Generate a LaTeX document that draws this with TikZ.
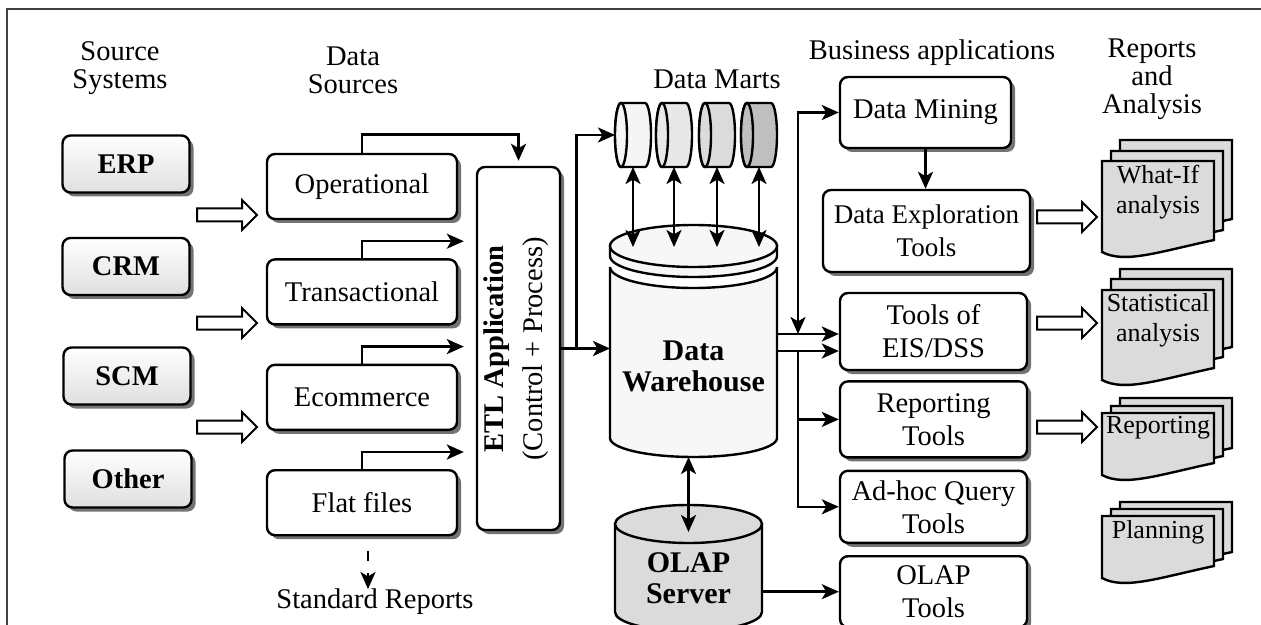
\documentclass[tikz,border=0pt]{standalone}
\usepackage{fontspec}
\setmainfont{Liberation Serif}
\usepackage{tikz}
\usetikzlibrary{arrows.meta,positioning,shadows,calc}

% one sheet of a report stack: left x, top y, height at the right edge
\newcommand{\docpage}[3]{%
  \draw[docfill] ({#1},{-(#2)}) -- ({#1+112},{-(#2)}) -- ({#1+112},{-(#2)-(#3)})
    .. controls ({#1+56},{-(#2)-(#3)-12}) and ({#1+22.4},{-(#2)-(#3)-24}) ..
    ({#1},{-(#2)-(#3)-12}) -- cycle;}

\begin{document}
\begin{tikzpicture}[
  x=0.5pt, y=0.5pt,
  >={Stealth[length=8.5pt,width=7.5pt,inset=2.2pt]},
  every node/.style={font=\fontsize{14.25pt}{16.5pt}\selectfont},
  shd/.style={drop shadow={shadow xshift=2pt, shadow yshift=-2pt,
              fill=black!55, opacity=1}},
  src/.style={draw, shd, rounded corners=4pt, line width=1.2pt,
              top color=white, bottom color=gray!25,
              minimum width=63.5pt, minimum height=28.5pt,
              font=\fontsize{14.25pt}{16.5pt}\selectfont\bfseries},
  box/.style={draw, shd, fill=white, rounded corners=4pt, line width=1.2pt,
              align=center, inner sep=1pt},
  dsrc/.style={box, minimum width=95pt, minimum height=32.5pt},
  app/.style={box, minimum width=93.5pt},
  head/.style={align=center, font=\fontsize{14.25pt}{14pt}\selectfont},
  bold/.style={align=center, font=\fontsize{15pt}{15.5pt}\selectfont\bfseries},
  doctxt/.style={align=center, font=\fontsize{13pt}{15pt}\selectfont},
  holder/.style={inner sep=0pt, outer sep=0pt},
  cyl/.style={draw, line width=1.2pt, fill=#1},
  docfill/.style={draw, line width=1.2pt, fill=gray!28},
  arr/.style={->, line width=1.3pt},
  barr/.style={<->, line width=1.3pt},
  darr/.style={->, line width=1.3pt, dash pattern=on 5pt off 6pt},
  harrow/.pic={\draw[line width=1pt, fill=white]
    (-60,-6.5) -- (-15,-6.5) -- (-15,-15) -- (0,0) -- (-15,15)
    -- (-15,6.5) -- (-60,6.5) -- cycle;},
]
\useasboundingbox (0,0) rectangle (1261,-625);
\draw[line width=0.75pt, black!75] (7,-625) -- (7,-9) -- (1261,-9);

%% ─── Column heads ───────────────────────────────────────────────────────────
\node[head] (hsrc)  at (120,-68)  {Source\\Systems};
\node[head] (hds)   at (353,-70)  {Data\\Sources};
\node[head] (hmart) at (717,-79)  {Data Marts};
\node[head] (hbus)  at (932,-53)  {Business applications};
\node[head] (hrep)  at (1152,-79) {Reports\\and\\Analysis};

%% ─── Source systems ─────────────────────────────────────────────────────────
\node[src] (erp) at (126,-164)   {ERP};
\node[src] (crm) at (126,-266.5) {CRM};
\node[src] (scm) at (127,-376)   {SCM};
\node[src] (oth) at (128,-479)   {Other};

\pic at (257,-215) {harrow};
\pic at (257,-323) {harrow};
\pic at (257,-427) {harrow};

%% ─── Data sources ───────────────────────────────────────────────────────────
\node[dsrc] (op) at (362,-186.5) {Operational};
\node[dsrc, below=19pt of op] (tr) {Transactional};
\node[dsrc, below=19pt of tr] (ec) {Ecommerce};
\node[dsrc, below=19pt of ec] (ff) {Flat files};

\node[holder] (std) at (375,-602) {Standard Reports};
\draw[darr] ([xshift=3pt,yshift=-7.5pt]ff.south) -- ([xshift=-3.5pt]std.north);

%% ETL
\node[box, minimum width=41.5pt, minimum height=181.5pt] (etl) at (518.5,-348.5) {};
\node[rotate=90, align=center] (etltxt) at (516.5,-349)
  {\textbf{ETL Application}\\[3pt](Control + Process)};

\draw[arr, shorten >=2.5pt] (op.north) -- ++(0,18) -| (etl.north);
\foreach \n in {tr,ec,ff}
  \draw[arr, shorten >=6pt] (\n.north) -- ++(0,17) coordinate (c) -- (c -| etl.west);

%% ─── Data warehouse + marts ─────────────────────────────────────────────────
\node[holder, minimum width=83.5pt, minimum height=116pt] (dw) at (693.5,-341) {};
\draw[cyl=gray!6] (610,-267) -- (610,-438)
  arc[start angle=180,end angle=360,x radius=41.75pt,y radius=9.5pt]
  -- (777,-267) arc[start angle=0,end angle=-180,x radius=41.75pt,y radius=10.5pt] -- cycle;
\draw[cyl=gray!6] (610,-246) -- (610,-256)
  arc[start angle=180,end angle=360,x radius=41.75pt,y radius=10.5pt] -- (777,-246) -- cycle;
\draw[cyl=gray!6] (693.5,-246) ellipse[x radius=41.75pt,y radius=10.5pt];
\node[bold] (dwtxt) at (693.5,-366) {Data\\Warehouse};
\coordinate (dwtop) at (693.5,-247);

\foreach \i/\x/\c in {1/633/8,2/674/18,3/717/28,4/759/50}{
  \node[holder, minimum width=18pt, minimum height=32pt] (m\i) at (\x,-135) {};
  \draw[cyl=gray!\c] ([xshift=3pt]m\i.north west) -- ([xshift=-3pt]m\i.north east)
    arc[start angle=90,end angle=-90,x radius=3pt,y radius=16pt]
    -- ([xshift=3pt]m\i.south west)
    arc[start angle=270,end angle=90,x radius=3pt,y radius=16pt] -- cycle;
  \draw[cyl=gray!\c] ([xshift=3pt]m\i.west) ellipse[x radius=3pt,y radius=16pt];
  \draw[barr] (m\i.south) -- (m\i.south |- dwtop);
}

\draw[arr] (etl.east) -- (etl.east -| dw.west);
\draw[arr] (etl.east) -- ++(15,0) |- (m1.west);

%% OLAP server
\node[holder, minimum width=73.5pt, minimum height=60pt] (olap) at (688.5,-565) {};
\draw[cyl=gray!28] (615,-524) -- (615,-612)
  arc[start angle=180,end angle=360,x radius=36.75pt,y radius=9.5pt] -- (762,-524) -- cycle;
\draw[cyl=gray!28] (688.5,-524) ellipse[x radius=36.75pt,y radius=9.5pt];
\node[bold] (olaptxt) at (688.5,-578) {OLAP\\Server};
\draw[barr] (olap.north |- dw.south) -- ([yshift=-13.5pt]olap.north);

%% ─── Business applications ──────────────────────────────────────────────────
\node[box, minimum width=85.5pt, minimum height=35.5pt] (dm) at (925.5,-112.5) {Data Mining};
\node[box, minimum width=103.5pt, minimum height=41pt,
      font=\fontsize{13.5pt}{16.5pt}\selectfont] (det) at (926.5,-231) {Data Exploration\\Tools};
\node[app, minimum height=38.5pt] (eis) at (933.5,-331.5) {Tools of\\EIS/DSS};
\node[app, minimum height=38pt, below=4.5pt of eis] (rep) {Reporting\\Tools};
\node[app, minimum height=36pt, below=5.5pt of rep] (adh) {Ad-hoc Query\\Tools};
\node[app, minimum height=35.5pt, below=5.5pt of adh] (olapt) {OLAP\\Tools};

\coordinate (jup) at (798,-334);
\coordinate (jlo) at (798,-351);
\draw[arr] (dw.east |- jup) -- (eis.west |- jup);
\draw[arr] (dw.east |- jlo) -- (eis.west |- jlo);
\draw[barr] (jup) |- (dm.west);
\draw[arr] (jlo) |- (rep.west);
\draw[arr] (jlo) |- (adh.west);
\draw[arr] (dm.south) -- (dm.south |- det.north);
\draw[arr] (olapt.west -| olap.east) -- (olapt.west);

%% ─── Reports and analysis ───────────────────────────────────────────────────
\foreach \t/\h/\dy/\dz in {161/79/10/21, 290/78/11/21, 413/50/7/15, 516/50/7/14}{
  \docpage{1120}{\t-\dz}{\h}
  \docpage{1111}{\t-\dy}{\h}
  \docpage{1102}{\t}{\h}
}
\node[doctxt] (whatif) at (1158,-192) {What-If\\analysis};
\node[doctxt] (stat)   at (1158,-320) {Statistical\\analysis};
\node[doctxt] (repo)   at (1158,-428) {Reporting};
\node[doctxt] (plan)   at (1158,-532) {Planning};

\pic at (1097,-217) {harrow};
\pic at (1097,-323) {harrow};
\pic at (1097,-427) {harrow};

\end{tikzpicture}
\end{document}
